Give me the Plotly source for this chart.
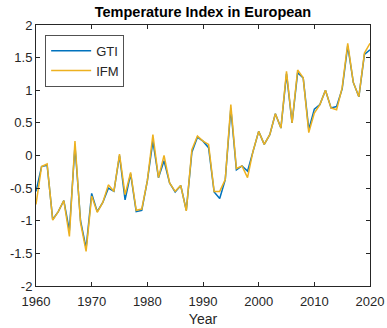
import plotly.graph_objects as go

years = list(range(1960, 2021))

gti = [-0.55, -0.17, -0.15, -0.98, -0.86, -0.69, -1.15, 0.15, -1.00, -1.42,
       -0.58, -0.86, -0.72, -0.50, -0.55, 0.00, -0.68, -0.28, -0.86, -0.84,
       -0.39, 0.22, -0.34, -0.08, -0.42, -0.56, -0.46, -0.84, 0.05, 0.28,
       0.22, 0.12, -0.56, -0.66, -0.37, 0.72, -0.22, -0.16, -0.24, 0.05,
       0.37, 0.17, 0.32, 0.64, 0.42, 1.25, 0.50, 1.27, 1.19, 0.40,
       0.71, 0.78, 1.00, 0.73, 0.75, 1.02, 1.68, 1.12, 0.90, 1.55,
       1.62]

ifm = [-0.75, -0.17, -0.13, -0.99, -0.86, -0.69, -1.24, 0.22, -1.03, -1.47,
       -0.62, -0.87, -0.72, -0.45, -0.55, 0.02, -0.60, -0.26, -0.84, -0.82,
       -0.39, 0.32, -0.34, 0.00, -0.42, -0.55, -0.46, -0.85, 0.09, 0.30,
       0.22, 0.17, -0.55, -0.55, -0.37, 0.78, -0.20, -0.16, -0.34, 0.07,
       0.37, 0.17, 0.32, 0.64, 0.42, 1.29, 0.50, 1.31, 1.19, 0.35,
       0.65, 0.78, 1.00, 0.73, 0.70, 1.04, 1.72, 1.12, 0.90, 1.57,
       1.72]

x_ticks = [1960, 1970, 1980, 1990, 2000, 2010, 2020]
y_ticks = [-2, -1.5, -1, -0.5, 0, 0.5, 1, 1.5, 2]
y_tick_text = ["-2", "-1.5", "-1", "-0.5", "0", "0.5", "1", "1.5", "2"]

axis_color = "#262626"
font_family = "Liberation Sans, Arial, sans-serif"
page_w, page_h = 387, 328

fig = go.Figure()
fig.add_trace(go.Scatter(x=years, y=gti, mode="lines", name="GTI",
                         line=dict(color="#0072BD", width=1.5)))
fig.add_trace(go.Scatter(x=years, y=ifm, mode="lines", name="IFM",
                         line=dict(color="#EDB120", width=1.5)))

fig.update_layout(
    width=page_w, height=page_h,
    margin=dict(l=36, r=17, t=25, b=42, autoexpand=False),
    paper_bgcolor="white", plot_bgcolor="white",
    font=dict(family=font_family, size=13, color=axis_color),
    title=dict(text="<b>Temperature Index in European</b>",
               x=0.5, xanchor="center", xref="paper",
               y=1 - 12 / page_h, yanchor="middle", yref="container",
               font=dict(size=14.5, color="black")),
    showlegend=True,
    legend=dict(x=0.028, y=0.962, xanchor="left", yanchor="top",
                bgcolor="white", bordercolor=axis_color, borderwidth=0.8,
                font=dict(size=13, color=axis_color),
                tracegroupgap=0, itemwidth=40),
)

fig.update_xaxes(
    range=[1960, 2020], tickvals=x_ticks, automargin=False,
    showgrid=False, zeroline=False,
    showline=True, linecolor=axis_color, linewidth=1, mirror="ticks",
    ticks="inside", ticklen=4, tickcolor=axis_color, ticklabelstandoff=3,
    title=dict(text="Year", font=dict(size=14, color=axis_color), standoff=6),
)
fig.update_yaxes(
    range=[-2, 2], tickvals=y_ticks, ticktext=y_tick_text, automargin=False,
    showgrid=False, zeroline=False,
    showline=True, linecolor=axis_color, linewidth=1, mirror="ticks",
    ticks="inside", ticklen=4, tickcolor=axis_color,
)

fig.write_html("out.html")
